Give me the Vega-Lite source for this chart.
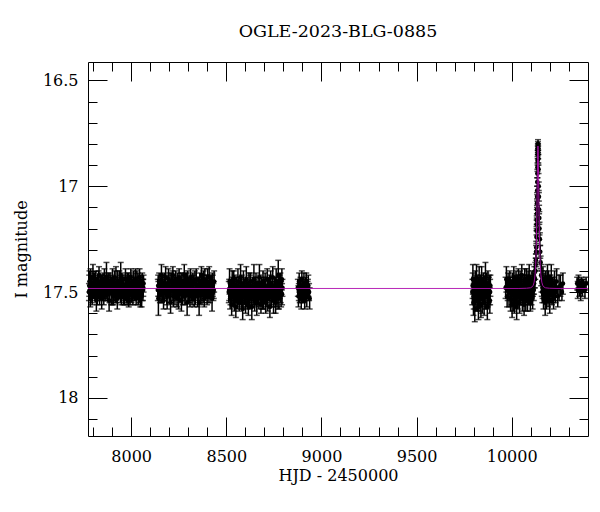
{
"$schema": "https://vega.github.io/schema/vega-lite/v6.json",
"width": 500, "height": 374,
"autosize": {"type": "none"},
"padding": {"left": 88, "top": 62, "right": 12, "bottom": 76},
"background": "white",
"title": {"text": "OGLE-2023-BLG-0885", "font": "DejaVu Serif", "fontSize": 17.5, "fontWeight": "normal", "color": "black", "offset": 21, "anchor": "middle"},
"config": {
  "view": {"stroke": "black", "strokeWidth": 1},
  "axis": {"domain": false, "grid": false, "tickColor": "black", "tickWidth": 1, "labelFont": "DejaVu Serif", "labelFontSize": 16, "labelColor": "black", "titleFont": "DejaVu Serif", "titleFontSize": 16, "titleFontWeight": "normal", "titleColor": "black"}
},
"datasets": {
"obs": [
{"t":7778,"m":17.50,"e":0.04},{"t":7781,"m":17.45,"e":0.05},{"t":7785,"m":17.53,"e":0.04},{"t":7788,"m":17.48,"e":0.03},{"t":7792,"m":17.47,"e":0.05},{"t":7795,"m":17.52,"e":0.04},{"t":7799,"m":17.43,"e":0.06},{"t":7802,"m":17.49,"e":0.04},{"t":7806,"m":17.46,"e":0.05},{"t":7810,"m":17.51,"e":0.03},
{"t":7813,"m":17.44,"e":0.04},{"t":7817,"m":17.54,"e":0.05},{"t":7820,"m":17.47,"e":0.04},{"t":7824,"m":17.48,"e":0.06},{"t":7827,"m":17.50,"e":0.03},{"t":7831,"m":17.42,"e":0.04},{"t":7834,"m":17.51,"e":0.05},{"t":7838,"m":17.46,"e":0.04},{"t":7842,"m":17.49,"e":0.04},{"t":7845,"m":17.53,"e":0.05},
{"t":7849,"m":17.45,"e":0.03},{"t":7852,"m":17.47,"e":0.06},{"t":7856,"m":17.52,"e":0.04},{"t":7859,"m":17.44,"e":0.05},{"t":7863,"m":17.50,"e":0.04},{"t":7866,"m":17.48,"e":0.04},{"t":7870,"m":17.43,"e":0.07},{"t":7874,"m":17.51,"e":0.03},{"t":7877,"m":17.49,"e":0.05},{"t":7881,"m":17.46,"e":0.04},
{"t":7884,"m":17.54,"e":0.05},{"t":7888,"m":17.45,"e":0.04},{"t":7891,"m":17.48,"e":0.03},{"t":7895,"m":17.50,"e":0.06},{"t":7898,"m":17.47,"e":0.04},{"t":7902,"m":17.44,"e":0.05},{"t":7906,"m":17.52,"e":0.04},{"t":7909,"m":17.49,"e":0.05},{"t":7913,"m":17.43,"e":0.03},{"t":7916,"m":17.51,"e":0.04},
{"t":7920,"m":17.46,"e":0.08},{"t":7923,"m":17.48,"e":0.04},{"t":7927,"m":17.53,"e":0.05},{"t":7930,"m":17.47,"e":0.04},{"t":7934,"m":17.50,"e":0.03},{"t":7938,"m":17.45,"e":0.05},{"t":7941,"m":17.49,"e":0.04},{"t":7945,"m":17.42,"e":0.06},{"t":7948,"m":17.52,"e":0.04},{"t":7952,"m":17.48,"e":0.05},
{"t":7955,"m":17.46,"e":0.04},{"t":7959,"m":17.51,"e":0.05},{"t":7962,"m":17.47,"e":0.04},{"t":7966,"m":17.53,"e":0.03},{"t":7970,"m":17.44,"e":0.05},{"t":7973,"m":17.50,"e":0.04},{"t":7977,"m":17.49,"e":0.06},{"t":7980,"m":17.45,"e":0.04},{"t":7984,"m":17.48,"e":0.05},{"t":7987,"m":17.54,"e":0.03},
{"t":7991,"m":17.46,"e":0.04},{"t":7994,"m":17.51,"e":0.05},{"t":7998,"m":17.43,"e":0.04},{"t":8002,"m":17.49,"e":0.06},{"t":8005,"m":17.47,"e":0.03},{"t":8009,"m":17.52,"e":0.04},{"t":8012,"m":17.45,"e":0.05},{"t":8016,"m":17.50,"e":0.04},{"t":8019,"m":17.48,"e":0.04},{"t":8023,"m":17.44,"e":0.05},
{"t":8026,"m":17.53,"e":0.03},{"t":8030,"m":17.46,"e":0.06},{"t":8034,"m":17.49,"e":0.04},{"t":8037,"m":17.51,"e":0.05},{"t":8041,"m":17.47,"e":0.04},{"t":8044,"m":17.43,"e":0.04},{"t":8048,"m":17.50,"e":0.07},{"t":8051,"m":17.48,"e":0.03},{"t":8055,"m":17.52,"e":0.05},{"t":8058,"m":17.45,"e":0.04},
{"t":8062,"m":17.49,"e":0.05},{"t":8065,"m":17.46,"e":0.04},
{"t":8140,"m":17.49,"e":0.05},{"t":8143,"m":17.53,"e":0.08},{"t":8147,"m":17.45,"e":0.04},{"t":8151,"m":17.50,"e":0.05},{"t":8155,"m":17.47,"e":0.04},{"t":8159,"m":17.42,"e":0.05},{"t":8162,"m":17.51,"e":0.04},{"t":8166,"m":17.48,"e":0.06},{"t":8170,"m":17.54,"e":0.04},{"t":8174,"m":17.46,"e":0.05},
{"t":8177,"m":17.50,"e":0.03},{"t":8181,"m":17.43,"e":0.05},{"t":8185,"m":17.49,"e":0.04},{"t":8189,"m":17.52,"e":0.06},{"t":8192,"m":17.47,"e":0.04},{"t":8196,"m":17.44,"e":0.05},{"t":8200,"m":17.51,"e":0.04},{"t":8204,"m":17.48,"e":0.07},{"t":8207,"m":17.55,"e":0.05},{"t":8211,"m":17.45,"e":0.04},
{"t":8215,"m":17.49,"e":0.05},{"t":8219,"m":17.42,"e":0.04},{"t":8222,"m":17.52,"e":0.05},{"t":8226,"m":17.47,"e":0.04},{"t":8230,"m":17.50,"e":0.06},{"t":8234,"m":17.44,"e":0.04},{"t":8237,"m":17.48,"e":0.05},{"t":8241,"m":17.53,"e":0.04},{"t":8245,"m":17.46,"e":0.05},{"t":8249,"m":17.51,"e":0.07},
{"t":8252,"m":17.43,"e":0.04},{"t":8256,"m":17.49,"e":0.05},{"t":8260,"m":17.47,"e":0.04},{"t":8264,"m":17.54,"e":0.05},{"t":8267,"m":17.45,"e":0.04},{"t":8271,"m":17.50,"e":0.06},{"t":8275,"m":17.48,"e":0.04},{"t":8279,"m":17.42,"e":0.05},{"t":8282,"m":17.52,"e":0.04},{"t":8286,"m":17.46,"e":0.05},
{"t":8290,"m":17.49,"e":0.03},{"t":8294,"m":17.55,"e":0.06},{"t":8297,"m":17.44,"e":0.04},{"t":8301,"m":17.50,"e":0.05},{"t":8305,"m":17.47,"e":0.04},{"t":8309,"m":17.52,"e":0.05},{"t":8312,"m":17.43,"e":0.04},{"t":8316,"m":17.48,"e":0.06},{"t":8320,"m":17.51,"e":0.05},{"t":8324,"m":17.45,"e":0.04},
{"t":8327,"m":17.49,"e":0.05},{"t":8331,"m":17.53,"e":0.04},{"t":8335,"m":17.46,"e":0.06},{"t":8339,"m":17.50,"e":0.04},{"t":8342,"m":17.44,"e":0.05},{"t":8346,"m":17.48,"e":0.04},{"t":8350,"m":17.52,"e":0.05},{"t":8354,"m":17.47,"e":0.04},{"t":8357,"m":17.55,"e":0.06},{"t":8361,"m":17.45,"e":0.04},
{"t":8365,"m":17.49,"e":0.05},{"t":8369,"m":17.42,"e":0.04},{"t":8372,"m":17.51,"e":0.05},{"t":8376,"m":17.48,"e":0.04},{"t":8380,"m":17.46,"e":0.06},{"t":8384,"m":17.53,"e":0.04},{"t":8387,"m":17.44,"e":0.05},{"t":8391,"m":17.50,"e":0.04},{"t":8395,"m":17.47,"e":0.05},{"t":8399,"m":17.52,"e":0.04},
{"t":8402,"m":17.45,"e":0.06},{"t":8406,"m":17.49,"e":0.04},{"t":8410,"m":17.43,"e":0.05},{"t":8414,"m":17.51,"e":0.04},{"t":8417,"m":17.48,"e":0.05},{"t":8421,"m":17.46,"e":0.04},{"t":8425,"m":17.53,"e":0.06},{"t":8429,"m":17.47,"e":0.05},{"t":8432,"m":17.50,"e":0.04},{"t":8436,"m":17.45,"e":0.05},
{"t":8513,"m":17.50,"e":0.05},{"t":8517,"m":17.45,"e":0.06},{"t":8520,"m":17.53,"e":0.05},{"t":8524,"m":17.48,"e":0.04},{"t":8528,"m":17.56,"e":0.05},{"t":8531,"m":17.46,"e":0.06},{"t":8535,"m":17.51,"e":0.05},{"t":8539,"m":17.44,"e":0.04},{"t":8542,"m":17.54,"e":0.05},{"t":8546,"m":17.49,"e":0.06},
{"t":8550,"m":17.57,"e":0.05},{"t":8553,"m":17.47,"e":0.04},{"t":8557,"m":17.52,"e":0.05},{"t":8561,"m":17.45,"e":0.06},{"t":8564,"m":17.50,"e":0.05},{"t":8568,"m":17.55,"e":0.04},{"t":8572,"m":17.48,"e":0.05},{"t":8575,"m":17.43,"e":0.06},{"t":8579,"m":17.53,"e":0.05},{"t":8583,"m":17.50,"e":0.04},
{"t":8586,"m":17.58,"e":0.05},{"t":8590,"m":17.46,"e":0.06},{"t":8594,"m":17.51,"e":0.05},{"t":8597,"m":17.48,"e":0.04},{"t":8601,"m":17.55,"e":0.05},{"t":8605,"m":17.44,"e":0.06},{"t":8608,"m":17.52,"e":0.05},{"t":8612,"m":17.49,"e":0.04},{"t":8616,"m":17.56,"e":0.05},{"t":8619,"m":17.47,"e":0.06},
{"t":8623,"m":17.53,"e":0.05},{"t":8627,"m":17.45,"e":0.04},{"t":8630,"m":17.50,"e":0.05},{"t":8634,"m":17.57,"e":0.06},{"t":8638,"m":17.48,"e":0.05},{"t":8641,"m":17.52,"e":0.04},{"t":8645,"m":17.44,"e":0.07},{"t":8649,"m":17.54,"e":0.05},{"t":8652,"m":17.49,"e":0.04},{"t":8656,"m":17.46,"e":0.05},
{"t":8660,"m":17.55,"e":0.06},{"t":8663,"m":17.51,"e":0.05},{"t":8667,"m":17.47,"e":0.04},{"t":8671,"m":17.53,"e":0.05},{"t":8674,"m":17.43,"e":0.06},{"t":8678,"m":17.50,"e":0.05},{"t":8682,"m":17.56,"e":0.04},{"t":8685,"m":17.48,"e":0.05},{"t":8689,"m":17.52,"e":0.06},{"t":8693,"m":17.45,"e":0.05},
{"t":8696,"m":17.54,"e":0.04},{"t":8700,"m":17.49,"e":0.05},{"t":8704,"m":17.47,"e":0.06},{"t":8707,"m":17.55,"e":0.05},{"t":8711,"m":17.51,"e":0.04},{"t":8715,"m":17.44,"e":0.05},{"t":8718,"m":17.53,"e":0.06},{"t":8722,"m":17.48,"e":0.05},{"t":8726,"m":17.50,"e":0.04},{"t":8729,"m":17.57,"e":0.05},
{"t":8733,"m":17.46,"e":0.06},{"t":8737,"m":17.52,"e":0.05},{"t":8740,"m":17.49,"e":0.04},{"t":8744,"m":17.43,"e":0.05},{"t":8748,"m":17.54,"e":0.06},{"t":8751,"m":17.50,"e":0.05},{"t":8755,"m":17.47,"e":0.04},{"t":8759,"m":17.55,"e":0.05},{"t":8762,"m":17.45,"e":0.06},{"t":8766,"m":17.52,"e":0.05},
{"t":8770,"m":17.48,"e":0.04},{"t":8773,"m":17.42,"e":0.07},{"t":8777,"m":17.53,"e":0.05},{"t":8781,"m":17.49,"e":0.04},{"t":8784,"m":17.46,"e":0.05},{"t":8788,"m":17.51,"e":0.06},{"t":8792,"m":17.44,"e":0.05},{"t":8795,"m":17.48,"e":0.04},
{"t":8876,"m":17.48,"e":0.04},{"t":8879,"m":17.52,"e":0.05},{"t":8883,"m":17.45,"e":0.04},{"t":8886,"m":17.50,"e":0.05},{"t":8890,"m":17.47,"e":0.04},{"t":8894,"m":17.53,"e":0.05},{"t":8897,"m":17.44,"e":0.04},{"t":8901,"m":17.49,"e":0.05},{"t":8905,"m":17.51,"e":0.04},{"t":8908,"m":17.46,"e":0.05},
{"t":8912,"m":17.54,"e":0.04},{"t":8916,"m":17.48,"e":0.05},{"t":8920,"m":17.45,"e":0.04},{"t":8923,"m":17.52,"e":0.05},{"t":8927,"m":17.49,"e":0.04},{"t":8931,"m":17.47,"e":0.05},{"t":8935,"m":17.50,"e":0.04},{"t":8938,"m":17.53,"e":0.05},
{"t":9793,"m":17.50,"e":0.06},{"t":9796,"m":17.44,"e":0.07},{"t":9799,"m":17.55,"e":0.06},{"t":9802,"m":17.48,"e":0.05},{"t":9806,"m":17.58,"e":0.06},{"t":9809,"m":17.46,"e":0.06},{"t":9812,"m":17.52,"e":0.07},{"t":9815,"m":17.43,"e":0.06},{"t":9819,"m":17.54,"e":0.05},{"t":9822,"m":17.49,"e":0.06},
{"t":9825,"m":17.57,"e":0.06},{"t":9829,"m":17.45,"e":0.07},{"t":9832,"m":17.51,"e":0.06},{"t":9835,"m":17.47,"e":0.05},{"t":9838,"m":17.56,"e":0.06},{"t":9842,"m":17.44,"e":0.06},{"t":9845,"m":17.53,"e":0.07},{"t":9848,"m":17.49,"e":0.06},{"t":9852,"m":17.46,"e":0.05},{"t":9855,"m":17.55,"e":0.06},
{"t":9858,"m":17.50,"e":0.06},{"t":9862,"m":17.43,"e":0.07},{"t":9865,"m":17.52,"e":0.06},{"t":9868,"m":17.48,"e":0.05},{"t":9872,"m":17.57,"e":0.06},{"t":9875,"m":17.46,"e":0.06},{"t":9878,"m":17.51,"e":0.05},{"t":9882,"m":17.48,"e":0.06},{"t":9885,"m":17.54,"e":0.06},{"t":9888,"m":17.47,"e":0.05},
{"t":9968,"m":17.48,"e":0.05},{"t":9972,"m":17.44,"e":0.06},{"t":9976,"m":17.52,"e":0.05},{"t":9981,"m":17.47,"e":0.06},{"t":9986,"m":17.50,"e":0.07},{"t":9990,"m":17.45,"e":0.05},{"t":9994,"m":17.53,"e":0.06},{"t":9998,"m":17.49,"e":0.05},{"t":10002,"m":17.56,"e":0.06},{"t":10005,"m":17.46,"e":0.05},
{"t":10008,"m":17.51,"e":0.08},{"t":10011,"m":17.43,"e":0.05},{"t":10014,"m":17.54,"e":0.06},{"t":10017,"m":17.48,"e":0.05},{"t":10020,"m":17.50,"e":0.06},{"t":10023,"m":17.45,"e":0.05},{"t":10026,"m":17.57,"e":0.06},{"t":10029,"m":17.47,"e":0.05},{"t":10032,"m":17.52,"e":0.06},{"t":10035,"m":17.44,"e":0.05},
{"t":10038,"m":17.49,"e":0.07},{"t":10041,"m":17.55,"e":0.05},{"t":10044,"m":17.46,"e":0.06},{"t":10047,"m":17.51,"e":0.05},{"t":10050,"m":17.48,"e":0.06},{"t":10053,"m":17.42,"e":0.05},{"t":10056,"m":17.53,"e":0.06},{"t":10059,"m":17.47,"e":0.05},{"t":10062,"m":17.50,"e":0.06},{"t":10065,"m":17.56,"e":0.05},
{"t":10068,"m":17.45,"e":0.06},{"t":10071,"m":17.49,"e":0.05},{"t":10074,"m":17.52,"e":0.07},{"t":10077,"m":17.44,"e":0.05},{"t":10080,"m":17.48,"e":0.06},{"t":10083,"m":17.54,"e":0.05},{"t":10086,"m":17.46,"e":0.06},{"t":10089,"m":17.51,"e":0.05},{"t":10092,"m":17.43,"e":0.06},{"t":10095,"m":17.49,"e":0.05},
{"t":10098,"m":17.53,"e":0.06},{"t":10101,"m":17.47,"e":0.05},{"t":10104,"m":17.50,"e":0.06},{"t":10107,"m":17.45,"e":0.05},{"t":10110,"m":17.52,"e":0.06},{"t":10113,"m":17.46,"e":0.05},{"t":10116,"m":17.49,"e":0.05},{"t":10119,"m":17.43,"e":0.05},{"t":10122,"m":17.44,"e":0.04},{"t":10124,"m":17.40,"e":0.04},
{"t":10155,"m":17.42,"e":0.05},{"t":10158,"m":17.46,"e":0.06},{"t":10161,"m":17.50,"e":0.05},{"t":10164,"m":17.44,"e":0.06},{"t":10167,"m":17.53,"e":0.05},{"t":10170,"m":17.47,"e":0.06},{"t":10173,"m":17.49,"e":0.05},{"t":10176,"m":17.55,"e":0.06},{"t":10179,"m":17.45,"e":0.05},{"t":10182,"m":17.51,"e":0.07},
{"t":10185,"m":17.48,"e":0.05},{"t":10188,"m":17.43,"e":0.06},{"t":10191,"m":17.52,"e":0.05},{"t":10194,"m":17.46,"e":0.06},{"t":10197,"m":17.50,"e":0.05},{"t":10200,"m":17.54,"e":0.06},{"t":10204,"m":17.47,"e":0.05},{"t":10208,"m":17.44,"e":0.07},{"t":10212,"m":17.51,"e":0.05},{"t":10216,"m":17.49,"e":0.06},
{"t":10220,"m":17.53,"e":0.05},{"t":10225,"m":17.46,"e":0.06},{"t":10230,"m":17.50,"e":0.05},{"t":10236,"m":17.45,"e":0.06},{"t":10242,"m":17.52,"e":0.05},{"t":10249,"m":17.48,"e":0.06},{"t":10256,"m":17.47,"e":0.05},{"t":10264,"m":17.50,"e":0.04},{"t":10269,"m":17.46,"e":0.05},
{"t":10344,"m":17.46,"e":0.03},{"t":10347,"m":17.49,"e":0.04},{"t":10351,"m":17.45,"e":0.03},{"t":10355,"m":17.48,"e":0.04},{"t":10359,"m":17.47,"e":0.03},{"t":10363,"m":17.50,"e":0.04},{"t":10367,"m":17.46,"e":0.03},{"t":10372,"m":17.48,"e":0.04},{"t":10378,"m":17.47,"e":0.03},{"t":10385,"m":17.49,"e":0.04},{"t":10391,"m":17.46,"e":0.03},
{"t":7779.5,"m":17.47,"e":0.05},{"t":7786.5,"m":17.44,"e":0.05},{"t":7793.5,"m":17.51,"e":0.04},{"t":7800.5,"m":17.46,"e":0.05},{"t":7808,"m":17.49,"e":0.04},{"t":7815,"m":17.48,"e":0.05},{"t":7822,"m":17.52,"e":0.04},{"t":7829,"m":17.45,"e":0.05},{"t":7836,"m":17.49,"e":0.04},{"t":7843.5,"m":17.47,"e":0.05},
{"t":7850.5,"m":17.50,"e":0.04},{"t":7857.5,"m":17.48,"e":0.05},{"t":7864.5,"m":17.46,"e":0.04},{"t":7872,"m":17.48,"e":0.05},{"t":7879,"m":17.45,"e":0.04},{"t":7886,"m":17.50,"e":0.05},{"t":7893,"m":17.46,"e":0.04},{"t":7900,"m":17.51,"e":0.05},{"t":7907.5,"m":17.47,"e":0.04},{"t":7914.5,"m":17.49,"e":0.05},
{"t":7921.5,"m":17.51,"e":0.04},{"t":7928.5,"m":17.45,"e":0.05},{"t":7936,"m":17.48,"e":0.04},{"t":7943,"m":17.50,"e":0.05},{"t":7950,"m":17.45,"e":0.04},{"t":7957,"m":17.48,"e":0.05},{"t":7964,"m":17.50,"e":0.04},{"t":7971.5,"m":17.47,"e":0.05},{"t":7978.5,"m":17.52,"e":0.04},{"t":7985.5,"m":17.46,"e":0.05},
{"t":7992.5,"m":17.49,"e":0.04},{"t":8000,"m":17.47,"e":0.05},{"t":8007,"m":17.50,"e":0.04},{"t":8014,"m":17.46,"e":0.05},{"t":8021,"m":17.49,"e":0.04},{"t":8028,"m":17.48,"e":0.05},{"t":8035.5,"m":17.45,"e":0.04},{"t":8042.5,"m":17.50,"e":0.05},{"t":8049.5,"m":17.46,"e":0.04},{"t":8056.5,"m":17.49,"e":0.05},
{"t":8063.5,"m":17.48,"e":0.04},
{"t":8142,"m":17.47,"e":0.05},{"t":8149,"m":17.48,"e":0.04},{"t":8157,"m":17.50,"e":0.05},{"t":8164,"m":17.46,"e":0.04},{"t":8172,"m":17.49,"e":0.05},{"t":8179,"m":17.47,"e":0.04},{"t":8187,"m":17.51,"e":0.05},{"t":8194,"m":17.46,"e":0.04},{"t":8202,"m":17.50,"e":0.05},{"t":8209,"m":17.48,"e":0.04},
{"t":8217,"m":17.45,"e":0.05},{"t":8224,"m":17.50,"e":0.04},{"t":8232,"m":17.47,"e":0.05},{"t":8239,"m":17.49,"e":0.04},{"t":8247,"m":17.48,"e":0.05},{"t":8254,"m":17.51,"e":0.04},{"t":8262,"m":17.46,"e":0.05},{"t":8269,"m":17.49,"e":0.04},{"t":8277,"m":17.47,"e":0.05},{"t":8284,"m":17.50,"e":0.04},
{"t":8292,"m":17.46,"e":0.05},{"t":8299,"m":17.48,"e":0.04},{"t":8307,"m":17.50,"e":0.05},{"t":8314,"m":17.47,"e":0.04},{"t":8322,"m":17.49,"e":0.05},{"t":8329,"m":17.46,"e":0.04},{"t":8337,"m":17.51,"e":0.05},{"t":8344,"m":17.48,"e":0.04},{"t":8352,"m":17.50,"e":0.05},{"t":8359,"m":17.47,"e":0.04},
{"t":8367,"m":17.49,"e":0.05},{"t":8374,"m":17.46,"e":0.04},{"t":8382,"m":17.50,"e":0.05},{"t":8389,"m":17.48,"e":0.04},{"t":8397,"m":17.47,"e":0.05},{"t":8404,"m":17.51,"e":0.04},{"t":8412,"m":17.48,"e":0.05},{"t":8419,"m":17.49,"e":0.04},{"t":8427,"m":17.46,"e":0.05},{"t":8434,"m":17.49,"e":0.04},
{"t":8515,"m":17.49,"e":0.05},{"t":8522,"m":17.51,"e":0.05},{"t":8529,"m":17.48,"e":0.05},{"t":8537,"m":17.52,"e":0.05},{"t":8544,"m":17.47,"e":0.05},{"t":8552,"m":17.50,"e":0.05},{"t":8559,"m":17.53,"e":0.05},{"t":8566,"m":17.48,"e":0.05},{"t":8573,"m":17.51,"e":0.05},{"t":8581,"m":17.47,"e":0.05},
{"t":8588,"m":17.52,"e":0.05},{"t":8596,"m":17.50,"e":0.05},{"t":8603,"m":17.48,"e":0.05},{"t":8610,"m":17.53,"e":0.05},{"t":8617,"m":17.50,"e":0.05},{"t":8625,"m":17.47,"e":0.05},{"t":8632,"m":17.52,"e":0.05},{"t":8640,"m":17.49,"e":0.05},{"t":8647,"m":17.51,"e":0.05},{"t":8654,"m":17.48,"e":0.05},
{"t":8661,"m":17.52,"e":0.05},{"t":8669,"m":17.50,"e":0.05},{"t":8676,"m":17.47,"e":0.05},{"t":8684,"m":17.51,"e":0.05},{"t":8691,"m":17.53,"e":0.05},{"t":8698,"m":17.48,"e":0.05},{"t":8705,"m":17.50,"e":0.05},{"t":8713,"m":17.52,"e":0.05},{"t":8720,"m":17.49,"e":0.05},{"t":8728,"m":17.47,"e":0.05},
{"t":8735,"m":17.51,"e":0.05},{"t":8742,"m":17.49,"e":0.05},{"t":8750,"m":17.52,"e":0.05},{"t":8757,"m":17.48,"e":0.05},{"t":8764,"m":17.50,"e":0.05},{"t":8772,"m":17.53,"e":0.05},{"t":8779,"m":17.47,"e":0.05},{"t":8786,"m":17.50,"e":0.05},{"t":8793,"m":17.51,"e":0.05},
{"t":8881,"m":17.50,"e":0.04},{"t":8888,"m":17.48,"e":0.04},{"t":8899,"m":17.51,"e":0.04},{"t":8910,"m":17.49,"e":0.04},{"t":8918,"m":17.50,"e":0.04},{"t":8929,"m":17.48,"e":0.04},
{"t":9794.5,"m":17.47,"e":0.06},{"t":9800.5,"m":17.52,"e":0.06},{"t":9807.5,"m":17.50,"e":0.06},{"t":9813.5,"m":17.48,"e":0.06},{"t":9820.5,"m":17.51,"e":0.06},{"t":9827,"m":17.49,"e":0.06},{"t":9833.5,"m":17.53,"e":0.06},{"t":9840,"m":17.48,"e":0.06},{"t":9846.5,"m":17.51,"e":0.06},{"t":9853.5,"m":17.49,"e":0.06},
{"t":9860,"m":17.52,"e":0.06},{"t":9866.5,"m":17.47,"e":0.06},{"t":9873.5,"m":17.51,"e":0.06},{"t":9880,"m":17.49,"e":0.06},{"t":9886.5,"m":17.50,"e":0.06},
{"t":9979,"m":17.49,"e":0.05},{"t":9992,"m":17.48,"e":0.05},{"t":10000,"m":17.51,"e":0.05},{"t":10009.5,"m":17.47,"e":0.05},{"t":10015.5,"m":17.50,"e":0.05},{"t":10021.5,"m":17.48,"e":0.05},{"t":10027.5,"m":17.51,"e":0.05},{"t":10033.5,"m":17.48,"e":0.05},{"t":10039.5,"m":17.50,"e":0.05},{"t":10045.5,"m":17.47,"e":0.05},
{"t":10051.5,"m":17.49,"e":0.05},{"t":10057.5,"m":17.51,"e":0.05},{"t":10063.5,"m":17.48,"e":0.05},{"t":10069.5,"m":17.50,"e":0.05},{"t":10075.5,"m":17.47,"e":0.05},{"t":10081.5,"m":17.50,"e":0.05},{"t":10087.5,"m":17.48,"e":0.05},{"t":10093.5,"m":17.51,"e":0.05},{"t":10099.5,"m":17.49,"e":0.05},{"t":10105.5,"m":17.48,"e":0.05},
{"t":10111.5,"m":17.47,"e":0.05},{"t":10117.5,"m":17.46,"e":0.05},{"t":10156.5,"m":17.45,"e":0.05},{"t":10162.5,"m":17.48,"e":0.05},{"t":10168.5,"m":17.50,"e":0.05},{"t":10174.5,"m":17.47,"e":0.05},{"t":10180.5,"m":17.49,"e":0.05},{"t":10186.5,"m":17.50,"e":0.05},{"t":10192.5,"m":17.48,"e":0.05},{"t":10198.5,"m":17.47,"e":0.05},
{"t":10206,"m":17.50,"e":0.05},{"t":10214,"m":17.48,"e":0.05},{"t":10222,"m":17.49,"e":0.05}
],
"peak": [
{"t":10126,"m":17.37,"e":0.03},{"t":10127,"m":17.35,"e":0.03},{"t":10128,"m":17.31,"e":0.03},{"t":10129,"m":17.29,"e":0.03},{"t":10130,"m":17.24,"e":0.03},{"t":10130.5,"m":17.21,"e":0.02},{"t":10131,"m":17.18,"e":0.02},{"t":10131.5,"m":17.16,"e":0.02},{"t":10132,"m":17.13,"e":0.02},{"t":10132.5,"m":17.11,"e":0.02},
{"t":10133,"m":17.08,"e":0.02},{"t":10133.5,"m":17.05,"e":0.02},{"t":10134,"m":17.02,"e":0.02},{"t":10134.5,"m":16.98,"e":0.02},{"t":10135,"m":16.94,"e":0.02},{"t":10135.5,"m":16.91,"e":0.02},{"t":10136,"m":16.88,"e":0.02},{"t":10136.5,"m":16.85,"e":0.02},{"t":10137,"m":16.83,"e":0.02},{"t":10137.5,"m":16.82,"e":0.02},
{"t":10138,"m":16.81,"e":0.02},{"t":10138.3,"m":16.80,"e":0.02},{"t":10138.6,"m":16.82,"e":0.02},{"t":10139,"m":16.83,"e":0.02},{"t":10139.5,"m":16.85,"e":0.02},{"t":10140,"m":16.87,"e":0.02},{"t":10141,"m":16.92,"e":0.02},{"t":10142,"m":17.00,"e":0.02},{"t":10143,"m":17.05,"e":0.02},{"t":10144,"m":17.11,"e":0.02},
{"t":10145,"m":17.15,"e":0.03},{"t":10146,"m":17.20,"e":0.03},{"t":10148,"m":17.25,"e":0.03},{"t":10150,"m":17.31,"e":0.03},{"t":10152,"m":17.36,"e":0.03}
],
"model": [
{"t":7773,"m":17.483},{"t":10038,"m":17.483},{"t":10078,"m":17.482},{"t":10098,"m":17.48},{"t":10108,"m":17.475},{"t":10113,"m":17.468},{"t":10118,"m":17.453},{"t":10123,"m":17.416},{"t":10126,"m":17.37},{"t":10128,"m":17.321},
{"t":10130,"m":17.248},{"t":10132,"m":17.144},{"t":10133,"m":17.08},{"t":10134,"m":17.01},{"t":10135,"m":16.938},{"t":10136,"m":16.873},{"t":10137,"m":16.827},{"t":10138,"m":16.81},{"t":10139,"m":16.827},{"t":10140,"m":16.873},
{"t":10141,"m":16.938},{"t":10142,"m":17.01},{"t":10143,"m":17.08},{"t":10144,"m":17.144},{"t":10146,"m":17.248},{"t":10148,"m":17.321},{"t":10150,"m":17.37},{"t":10153,"m":17.416},{"t":10158,"m":17.453},{"t":10163,"m":17.468},
{"t":10168,"m":17.475},{"t":10178,"m":17.48},{"t":10198,"m":17.482},{"t":10238,"m":17.483},{"t":10401,"m":17.483}
]
},
"resolve": {"axis": {"x": "independent", "y": "independent"}},
"layer": [
{
  "data": {"name": "obs"},
  "mark": {"type": "errorbar", "ticks": {"size": 6, "color": "black"}, "thickness": 1.5, "color": "black"},
  "encoding": {
    "x": {"field": "t", "type": "quantitative", "scale": {"domain": [7773, 10401], "nice": false, "zero": false},
          "axis": {"orient": "bottom", "values": [8000, 8500, 9000, 9500, 10000], "format": "d", "tickSize": -19, "labelPadding": 31, "title": "HJD - 2450000", "titlePadding": 3}},
    "y": {"field": "m", "type": "quantitative", "scale": {"domain": [16.413, 18.18], "reverse": true, "nice": false, "zero": false},
          "axis": {"orient": "left", "values": [16.5, 17, 17.5, 18], "format": "~g", "tickSize": -19, "labelPadding": 29, "title": "I magnitude", "titlePadding": 13}},
    "yError": {"field": "e"}
  }
},
{
  "data": {"name": "peak"},
  "mark": {"type": "errorbar", "ticks": {"size": 6, "color": "black"}, "thickness": 1.5, "color": "black"},
  "encoding": {
    "x": {"field": "t", "type": "quantitative", "scale": {"domain": [7773, 10401], "nice": false, "zero": false},
          "axis": {"orient": "bottom", "values": [7800,7900,8000,8100,8200,8300,8400,8500,8600,8700,8800,8900,9000,9100,9200,9300,9400,9500,9600,9700,9800,9900,10000,10100,10200,10300], "tickSize": -9, "labels": false, "title": null}},
    "y": {"field": "m", "type": "quantitative", "scale": {"domain": [16.413, 18.18], "reverse": true, "nice": false, "zero": false},
          "axis": {"orient": "left", "values": [16.5,16.6,16.7,16.8,16.9,17,17.1,17.2,17.3,17.4,17.5,17.6,17.7,17.8,17.9,18,18.1], "tickSize": -9, "labels": false, "title": null}},
    "yError": {"field": "e"}
  }
},
{
  "data": {"name": "obs"},
  "mark": {"type": "point", "filled": true, "size": 22, "color": "black", "opacity": 1},
  "encoding": {
    "x": {"field": "t", "type": "quantitative", "scale": {"domain": [7773, 10401], "nice": false, "zero": false},
          "axis": {"orient": "top", "values": [8000, 8500, 9000, 9500, 10000], "tickSize": -19, "labels": false, "title": null}},
    "y": {"field": "m", "type": "quantitative", "scale": {"domain": [16.413, 18.18], "reverse": true, "nice": false, "zero": false},
          "axis": {"orient": "right", "values": [16.5, 17, 17.5, 18], "tickSize": -19, "labels": false, "title": null}}
  }
},
{
  "data": {"name": "peak"},
  "mark": {"type": "point", "filled": true, "size": 22, "color": "black", "opacity": 1},
  "encoding": {
    "x": {"field": "t", "type": "quantitative", "scale": {"domain": [7773, 10401], "nice": false, "zero": false},
          "axis": {"orient": "top", "values": [7800,7900,8000,8100,8200,8300,8400,8500,8600,8700,8800,8900,9000,9100,9200,9300,9400,9500,9600,9700,9800,9900,10000,10100,10200,10300], "tickSize": -9, "labels": false, "title": null}},
    "y": {"field": "m", "type": "quantitative", "scale": {"domain": [16.413, 18.18], "reverse": true, "nice": false, "zero": false},
          "axis": {"orient": "right", "values": [16.5,16.6,16.7,16.8,16.9,17,17.1,17.2,17.3,17.4,17.5,17.6,17.7,17.8,17.9,18,18.1], "tickSize": -9, "labels": false, "title": null}}
  }
},
{
  "data": {"name": "model"},
  "mark": {"type": "line", "color": "#b010b0", "strokeWidth": 0.9},
  "encoding": {
    "x": {"field": "t", "type": "quantitative", "scale": {"domain": [7773, 10401], "nice": false, "zero": false}, "axis": null},
    "y": {"field": "m", "type": "quantitative", "scale": {"domain": [16.413, 18.18], "reverse": true, "nice": false, "zero": false}, "axis": null}
  }
}
]
}
